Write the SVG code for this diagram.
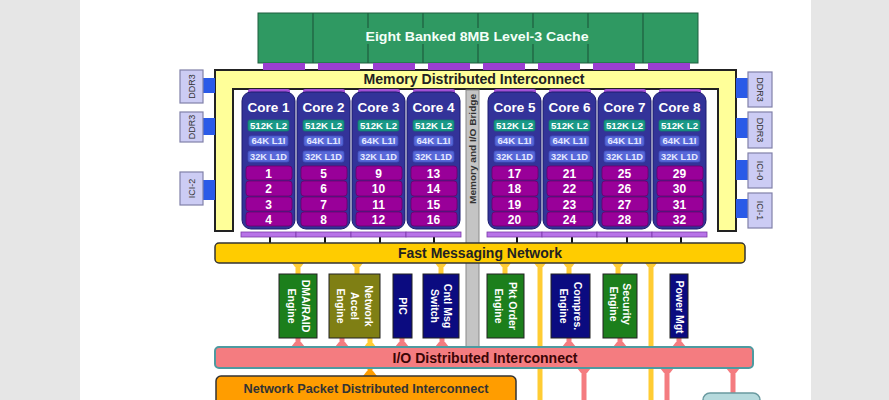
<svg xmlns="http://www.w3.org/2000/svg" width="889" height="400" viewBox="0 0 889 400">
<style>
text{font-family:"Liberation Sans",Arial,sans-serif;font-weight:bold;text-anchor:middle}
.core{fill:#333399;stroke:#1c1c6e;stroke-width:1}
.tab{fill:#a24fd6}
.l2{fill:#1a9988;stroke:#127a6c;stroke-width:.8}
.l1{fill:#5868d8;stroke:#4050c0;stroke-width:.8}
.thr{fill:#990099;stroke:#6a006a;stroke-width:.8}
.bar{fill:#b873e8;stroke:#7a3aa8;stroke-width:.8}
.ct{font-size:13.5px;fill:#fff}
.st{font-size:8.5px;fill:#fff}
.lt{font-size:8.5px;fill:#e4e8ff}
.nt{font-size:12px;fill:#fff}
.mem{fill:#ccccf4;stroke:#8080a8;stroke-width:1.2}
.mt{font-size:9px;font-weight:normal;fill:#333}
.eng{stroke:#222;stroke-width:1}
.et{font-size:10.5px;fill:#fff}
.blue{fill:#2a5ae8}
.yl{stroke:#ffcc33;stroke-width:5;fill:none}
.pk{stroke:#f47c80;stroke-width:5;fill:none}
.bk{stroke:#111;stroke-width:2;fill:none}
</style>
<rect x="0" y="0" width="889" height="400" fill="#ffffff"/>
<rect x="0" y="0" width="80" height="400" fill="#e6e6e6"/>
<rect x="811" y="0" width="78" height="400" fill="#e6e6e6"/>

<g id="l3cache">
<rect x="258" y="13" width="440" height="50" fill="#2f9962" stroke="#1e5e3e" stroke-width="1"/>
<path d="M313,13V63M643,13V63M368,13V28M368,44V63M423,13V28M423,44V63M478,13V28M478,44V63M533,13V28M533,44V63M588,13V28M588,44V63" stroke="#1e5e3e" stroke-width="1.2" fill="none"/>
<text x="477" y="41" font-size="13.5" fill="#f4fff8" textLength="223" lengthAdjust="spacingAndGlyphs">Eight Banked 8MB Level-3 Cache</text>
</g>

<g id="mdi">
<path d="M215,70H736V231H718V89H233V231H215Z" fill="#ffff99" stroke="#222" stroke-width="2"/>
<text x="474" y="84" font-size="14" fill="#222" textLength="221" lengthAdjust="spacingAndGlyphs">Memory Distributed Interconnect</text>
</g>

<g id="bridge">
<rect x="466" y="90" width="13" height="258" fill="#c4c4c4" stroke="#8a8a8a" stroke-width="1"/>
<text transform="translate(476,149) rotate(-90)" x="0" y="0" font-size="9" fill="#333" textLength="110" lengthAdjust="spacingAndGlyphs">Memory and I/O Bridge</text>
</g>

<g id="connectors">
<g fill="#9b3fd0">
<rect x="263" y="63" width="42" height="7"/><rect x="318" y="63" width="42" height="7"/><rect x="373" y="63" width="42" height="7"/><rect x="428" y="63" width="42" height="7"/>
<rect x="483" y="63" width="42" height="7"/><rect x="538" y="63" width="42" height="7"/><rect x="593" y="63" width="42" height="7"/><rect x="648" y="63" width="42" height="7"/>
</g>
<g class="blue">
<rect x="203" y="78" width="12" height="15"/><rect x="203" y="118" width="12" height="17"/><rect x="203" y="180" width="12" height="20"/>
<rect x="736" y="78" width="12" height="20"/><rect x="736" y="118" width="12" height="20"/><rect x="736" y="160" width="12" height="20"/><rect x="736" y="199" width="12" height="19"/>
</g>
<g class="tab">
<rect x="248" y="89" width="42" height="6" rx="2"/><rect x="303" y="89" width="42" height="6" rx="2"/><rect x="358" y="89" width="42" height="6" rx="2"/><rect x="413" y="89" width="42" height="6" rx="2"/>
<rect x="494" y="89" width="42" height="6" rx="2"/><rect x="549" y="89" width="42" height="6" rx="2"/><rect x="604" y="89" width="42" height="6" rx="2"/><rect x="659" y="89" width="42" height="6" rx="2"/>
</g>
<path class="bk" d="M270,237V243M325,237V243M380,237V243M434,237V243M517,237V243M572,237V243M627,237V243M681,237V243"/>
<path class="yl" d="M298,263V274M357,263V274M441,263V274M505,263V274M569,263V274M618,263V274M540,263V400M651,263V400M370,338V347"/>
<path fill="#ffcc33" d="M292,263h12l-3,4h-6zM351,263h12l-3,4h-6zM435,263h12l-3,4h-6zM499,263h12l-3,4h-6zM563,263h12l-3,4h-6zM612,263h12l-3,4h-6zM534,263h12l-3,4h-6zM645,263h12l-3,4h-6zM367,343h6l3,4h-12z"/>
<path class="pk" d="M298,338V347M342,338V347M402,338V347M442,338V347M569,338V347M620,338V347M679,338V347M584,368V400M667,368V400M733,368V393"/>
<path fill="#f47c80" d="M295,342h6l4,5h-14zM339,342h6l4,5h-14zM399,342h6l4,5h-14zM439,342h6l4,5h-14zM566,342h6l4,5h-14zM617,342h6l4,5h-14zM676,342h6l4,5h-14zM577,368h14l-4,5h-6zM660,368h14l-4,5h-6zM726,368h14l-4,5h-6z"/>
<path d="M370,368V376" stroke="#ff9d00" stroke-width="5"/>
<path fill="#ff9d00" d="M367,371h6l4,5h-14z"/>
</g>

<g id="ddr3-l1"><rect class="mem" x="180" y="70" width="23" height="33"/><text class="mt" transform="translate(194.5,86.5) rotate(-90)">DDR3</text></g>
<g id="ddr3-l2"><rect class="mem" x="180" y="112" width="23" height="30"/><text class="mt" transform="translate(194.5,127) rotate(-90)">DDR3</text></g>
<g id="ici-2"><rect class="mem" x="180" y="172" width="23" height="33"/><text class="mt" transform="translate(194.5,188.5) rotate(-90)">ICI-2</text></g>
<g id="ddr3-r1"><rect class="mem" x="748" y="72" width="24" height="35"/><text class="mt" transform="translate(757,89.5) rotate(90)">DDR3</text></g>
<g id="ddr3-r2"><rect class="mem" x="748" y="112" width="24" height="36"/><text class="mt" transform="translate(757,130) rotate(90)">DDR3</text></g>
<g id="ici-0"><rect class="mem" x="748" y="153" width="24" height="35"/><text class="mt" transform="translate(757,170.5) rotate(90)">ICI-0</text></g>
<g id="ici-1"><rect class="mem" x="748" y="193" width="24" height="35"/><text class="mt" transform="translate(757,210.5) rotate(90)">ICI-1</text></g>

<g id="core1">
<rect class="core" x="242" y="92" width="53" height="137" rx="9"/>
<text class="ct" x="268.5" y="112">Core 1</text>
<rect class="l2" x="248" y="120" width="41" height="11" rx="2"/><text class="st" x="268.5" y="128.5" textLength="37" lengthAdjust="spacingAndGlyphs">512K L2</text>
<rect class="l1" x="249" y="136" width="39" height="10" rx="2"/><text class="lt" x="268.5" y="144" textLength="34" lengthAdjust="spacingAndGlyphs">64K L1I</text>
<rect class="l1" x="248" y="151" width="41" height="11" rx="2"/><text class="lt" x="268.5" y="159.5" textLength="37" lengthAdjust="spacingAndGlyphs">32K L1D</text>
<rect class="thr" x="246" y="166" width="46" height="14" rx="3"/><text class="nt" x="268.5" y="177.5">1</text>
<rect class="thr" x="246" y="181" width="46" height="15" rx="3"/><text class="nt" x="268.5" y="192.5">2</text>
<rect class="thr" x="246" y="197" width="46" height="14" rx="3"/><text class="nt" x="268.5" y="208.5">3</text>
<rect class="thr" x="246" y="212" width="46" height="14" rx="3"/><text class="nt" x="268.5" y="223.5">4</text>
<rect class="bar" x="241" y="232" width="55" height="5"/>
</g>
<g id="core2">
<rect class="core" x="297" y="92" width="53" height="137" rx="9"/>
<text class="ct" x="323.5" y="112">Core 2</text>
<rect class="l2" x="303" y="120" width="41" height="11" rx="2"/><text class="st" x="323.5" y="128.5" textLength="37" lengthAdjust="spacingAndGlyphs">512K L2</text>
<rect class="l1" x="304" y="136" width="39" height="10" rx="2"/><text class="lt" x="323.5" y="144" textLength="34" lengthAdjust="spacingAndGlyphs">64K L1I</text>
<rect class="l1" x="303" y="151" width="41" height="11" rx="2"/><text class="lt" x="323.5" y="159.5" textLength="37" lengthAdjust="spacingAndGlyphs">32K L1D</text>
<rect class="thr" x="301" y="166" width="46" height="14" rx="3"/><text class="nt" x="323.5" y="177.5">5</text>
<rect class="thr" x="301" y="181" width="46" height="15" rx="3"/><text class="nt" x="323.5" y="192.5">6</text>
<rect class="thr" x="301" y="197" width="46" height="14" rx="3"/><text class="nt" x="323.5" y="208.5">7</text>
<rect class="thr" x="301" y="212" width="46" height="14" rx="3"/><text class="nt" x="323.5" y="223.5">8</text>
<rect class="bar" x="296" y="232" width="55" height="5"/>
</g>
<g id="core3">
<rect class="core" x="352" y="92" width="53" height="137" rx="9"/>
<text class="ct" x="378.5" y="112">Core 3</text>
<rect class="l2" x="358" y="120" width="41" height="11" rx="2"/><text class="st" x="378.5" y="128.5" textLength="37" lengthAdjust="spacingAndGlyphs">512K L2</text>
<rect class="l1" x="359" y="136" width="39" height="10" rx="2"/><text class="lt" x="378.5" y="144" textLength="34" lengthAdjust="spacingAndGlyphs">64K L1I</text>
<rect class="l1" x="358" y="151" width="41" height="11" rx="2"/><text class="lt" x="378.5" y="159.5" textLength="37" lengthAdjust="spacingAndGlyphs">32K L1D</text>
<rect class="thr" x="356" y="166" width="46" height="14" rx="3"/><text class="nt" x="378.5" y="177.5">9</text>
<rect class="thr" x="356" y="181" width="46" height="15" rx="3"/><text class="nt" x="378.5" y="192.5">10</text>
<rect class="thr" x="356" y="197" width="46" height="14" rx="3"/><text class="nt" x="378.5" y="208.5">11</text>
<rect class="thr" x="356" y="212" width="46" height="14" rx="3"/><text class="nt" x="378.5" y="223.5">12</text>
<rect class="bar" x="351" y="232" width="55" height="5"/>
</g>
<g id="core4">
<rect class="core" x="407" y="92" width="53" height="137" rx="9"/>
<text class="ct" x="433.5" y="112">Core 4</text>
<rect class="l2" x="413" y="120" width="41" height="11" rx="2"/><text class="st" x="433.5" y="128.5" textLength="37" lengthAdjust="spacingAndGlyphs">512K L2</text>
<rect class="l1" x="414" y="136" width="39" height="10" rx="2"/><text class="lt" x="433.5" y="144" textLength="34" lengthAdjust="spacingAndGlyphs">64K L1I</text>
<rect class="l1" x="413" y="151" width="41" height="11" rx="2"/><text class="lt" x="433.5" y="159.5" textLength="37" lengthAdjust="spacingAndGlyphs">32K L1D</text>
<rect class="thr" x="411" y="166" width="46" height="14" rx="3"/><text class="nt" x="433.5" y="177.5">13</text>
<rect class="thr" x="411" y="181" width="46" height="15" rx="3"/><text class="nt" x="433.5" y="192.5">14</text>
<rect class="thr" x="411" y="197" width="46" height="14" rx="3"/><text class="nt" x="433.5" y="208.5">15</text>
<rect class="thr" x="411" y="212" width="46" height="14" rx="3"/><text class="nt" x="433.5" y="223.5">16</text>
<rect class="bar" x="406" y="232" width="55" height="5"/>
</g>
<g id="core5">
<rect class="core" x="488" y="92" width="53" height="137" rx="9"/>
<text class="ct" x="514.5" y="112">Core 5</text>
<rect class="l2" x="494" y="120" width="41" height="11" rx="2"/><text class="st" x="514.5" y="128.5" textLength="37" lengthAdjust="spacingAndGlyphs">512K L2</text>
<rect class="l1" x="495" y="136" width="39" height="10" rx="2"/><text class="lt" x="514.5" y="144" textLength="34" lengthAdjust="spacingAndGlyphs">64K L1I</text>
<rect class="l1" x="494" y="151" width="41" height="11" rx="2"/><text class="lt" x="514.5" y="159.5" textLength="37" lengthAdjust="spacingAndGlyphs">32K L1D</text>
<rect class="thr" x="492" y="166" width="46" height="14" rx="3"/><text class="nt" x="514.5" y="177.5">17</text>
<rect class="thr" x="492" y="181" width="46" height="15" rx="3"/><text class="nt" x="514.5" y="192.5">18</text>
<rect class="thr" x="492" y="197" width="46" height="14" rx="3"/><text class="nt" x="514.5" y="208.5">19</text>
<rect class="thr" x="492" y="212" width="46" height="14" rx="3"/><text class="nt" x="514.5" y="223.5">20</text>
<rect class="bar" x="487" y="232" width="55" height="5"/>
</g>
<g id="core6">
<rect class="core" x="543" y="92" width="53" height="137" rx="9"/>
<text class="ct" x="569.5" y="112">Core 6</text>
<rect class="l2" x="549" y="120" width="41" height="11" rx="2"/><text class="st" x="569.5" y="128.5" textLength="37" lengthAdjust="spacingAndGlyphs">512K L2</text>
<rect class="l1" x="550" y="136" width="39" height="10" rx="2"/><text class="lt" x="569.5" y="144" textLength="34" lengthAdjust="spacingAndGlyphs">64K L1I</text>
<rect class="l1" x="549" y="151" width="41" height="11" rx="2"/><text class="lt" x="569.5" y="159.5" textLength="37" lengthAdjust="spacingAndGlyphs">32K L1D</text>
<rect class="thr" x="547" y="166" width="46" height="14" rx="3"/><text class="nt" x="569.5" y="177.5">21</text>
<rect class="thr" x="547" y="181" width="46" height="15" rx="3"/><text class="nt" x="569.5" y="192.5">22</text>
<rect class="thr" x="547" y="197" width="46" height="14" rx="3"/><text class="nt" x="569.5" y="208.5">23</text>
<rect class="thr" x="547" y="212" width="46" height="14" rx="3"/><text class="nt" x="569.5" y="223.5">24</text>
<rect class="bar" x="542" y="232" width="55" height="5"/>
</g>
<g id="core7">
<rect class="core" x="598" y="92" width="53" height="137" rx="9"/>
<text class="ct" x="624.5" y="112">Core 7</text>
<rect class="l2" x="604" y="120" width="41" height="11" rx="2"/><text class="st" x="624.5" y="128.5" textLength="37" lengthAdjust="spacingAndGlyphs">512K L2</text>
<rect class="l1" x="605" y="136" width="39" height="10" rx="2"/><text class="lt" x="624.5" y="144" textLength="34" lengthAdjust="spacingAndGlyphs">64K L1I</text>
<rect class="l1" x="604" y="151" width="41" height="11" rx="2"/><text class="lt" x="624.5" y="159.5" textLength="37" lengthAdjust="spacingAndGlyphs">32K L1D</text>
<rect class="thr" x="602" y="166" width="46" height="14" rx="3"/><text class="nt" x="624.5" y="177.5">25</text>
<rect class="thr" x="602" y="181" width="46" height="15" rx="3"/><text class="nt" x="624.5" y="192.5">26</text>
<rect class="thr" x="602" y="197" width="46" height="14" rx="3"/><text class="nt" x="624.5" y="208.5">27</text>
<rect class="thr" x="602" y="212" width="46" height="14" rx="3"/><text class="nt" x="624.5" y="223.5">28</text>
<rect class="bar" x="597" y="232" width="55" height="5"/>
</g>
<g id="core8">
<rect class="core" x="653" y="92" width="53" height="137" rx="9"/>
<text class="ct" x="679.5" y="112">Core 8</text>
<rect class="l2" x="659" y="120" width="41" height="11" rx="2"/><text class="st" x="679.5" y="128.5" textLength="37" lengthAdjust="spacingAndGlyphs">512K L2</text>
<rect class="l1" x="660" y="136" width="39" height="10" rx="2"/><text class="lt" x="679.5" y="144" textLength="34" lengthAdjust="spacingAndGlyphs">64K L1I</text>
<rect class="l1" x="659" y="151" width="41" height="11" rx="2"/><text class="lt" x="679.5" y="159.5" textLength="37" lengthAdjust="spacingAndGlyphs">32K L1D</text>
<rect class="thr" x="657" y="166" width="46" height="14" rx="3"/><text class="nt" x="679.5" y="177.5">29</text>
<rect class="thr" x="657" y="181" width="46" height="15" rx="3"/><text class="nt" x="679.5" y="192.5">30</text>
<rect class="thr" x="657" y="197" width="46" height="14" rx="3"/><text class="nt" x="679.5" y="208.5">31</text>
<rect class="thr" x="657" y="212" width="46" height="14" rx="3"/><text class="nt" x="679.5" y="223.5">32</text>
<rect class="bar" x="652" y="232" width="55" height="5"/>
</g>

<g id="fmn">
<rect x="215" y="243" width="530" height="20" rx="4" fill="#ffcc00" stroke="#333" stroke-width="1.5"/>
<text x="480" y="258" font-size="14" fill="#222" textLength="164" lengthAdjust="spacingAndGlyphs">Fast Messaging Network</text>
</g>

<g id="dma-raid"><rect class="eng" x="279" y="274" width="38" height="64" fill="#1c7f1c"/>
<text class="et" transform="translate(298,306) rotate(90)"><tspan x="0" y="-4">DMA/RAID</tspan><tspan x="0" y="10">Engine</tspan></text></g>
<g id="net-accel"><rect class="eng" x="329" y="274" width="51" height="64" fill="#7f7f14"/>
<text class="et" transform="translate(354.5,306) rotate(90)"><tspan x="0" y="-10">Network</tspan><tspan x="0" y="4">Accel</tspan><tspan x="0" y="18">Engine</tspan></text></g>
<g id="pic"><rect class="eng" x="393" y="274" width="19" height="64" fill="#0b0b80"/>
<text class="et" transform="translate(402.5,306) rotate(90)"><tspan x="0" y="3.5">PIC</tspan></text></g>
<g id="cntl-msg"><rect class="eng" x="423" y="274" width="36" height="64" fill="#0b0b80"/>
<text class="et" transform="translate(441,306) rotate(90)"><tspan x="0" y="-3">Cntl Msg</tspan><tspan x="0" y="10">Switch</tspan></text></g>
<g id="pkt-order"><rect class="eng" x="487" y="274" width="37" height="64" fill="#1c7f1c"/>
<text class="et" transform="translate(505.5,306) rotate(90)"><tspan x="0" y="-3.5">Pkt Order</tspan><tspan x="0" y="10.5">Engine</tspan></text></g>
<g id="compres"><rect class="eng" x="551" y="274" width="39" height="64" fill="#0b0b80"/>
<text class="et" transform="translate(570.5,306) rotate(90)"><tspan x="0" y="-3.5">Compres.</tspan><tspan x="0" y="10.5">Engine</tspan></text></g>
<g id="security"><rect class="eng" x="603" y="274" width="34" height="64" fill="#1c7f1c"/>
<text class="et" transform="translate(620,304) rotate(90)"><tspan x="0" y="-3">Security</tspan><tspan x="0" y="10">Engine</tspan></text></g>
<g id="power-mgt"><rect class="eng" x="670" y="274" width="18" height="64" fill="#0b0b80"/>
<text class="et" transform="translate(679,307) rotate(90)"><tspan x="0" y="3.5">Power Mgt</tspan></text></g>

<g id="iodi">
<rect x="215" y="347" width="538" height="21" rx="4" fill="#f47c80" stroke="#4d9aa0" stroke-width="2"/>
<text x="485" y="363" font-size="14" fill="#3a0505" textLength="185" lengthAdjust="spacingAndGlyphs">I/O Distributed Interconnect</text>
</g>
<g id="npdi">
<rect x="216" y="376" width="300" height="32" rx="5" fill="#ff9d00" stroke="#333" stroke-width="1.5"/>
<text x="366" y="393" font-size="12.5" fill="#333" textLength="245" lengthAdjust="spacingAndGlyphs">Network Packet Distributed Interconnect</text>
</g>
<g id="io-box">
<rect x="703" y="393" width="57" height="20" rx="7" fill="#b6dadd" stroke="#6a9aa0" stroke-width="1.5"/>
</g>
</svg>
